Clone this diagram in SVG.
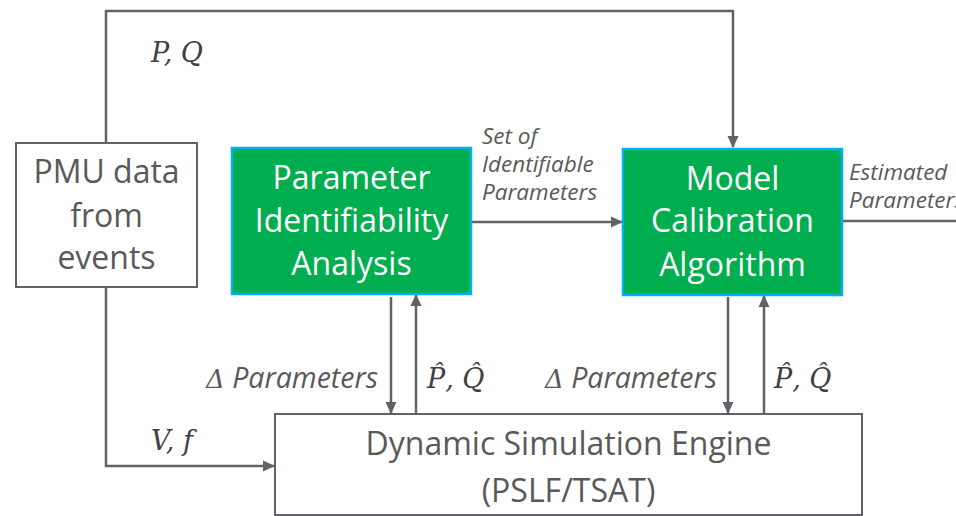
<svg xmlns="http://www.w3.org/2000/svg" width="956" height="516" viewBox="0 0 956 516">
<style>
.box{fill:#ffffff;stroke:#5f6368;stroke-width:2}
.gbox{fill:#00ad4f;stroke:#00b0f0;stroke-width:2.5}
.btxt{font-family:"Open Sans","Noto Sans",sans-serif;font-size:32px;fill:#595959;text-anchor:middle}
.gtxt{font-family:"Open Sans","Noto Sans",sans-serif;font-size:32px;fill:#ffffff;text-anchor:middle}
.lbl{font-family:"Open Sans","Noto Sans",sans-serif;font-size:22.5px;font-style:italic;fill:#595959}
.dl{font-family:"Open Sans","Noto Sans",sans-serif;font-size:28.5px;font-style:italic;fill:#595959;text-anchor:end}
.math{font-family:"DejaVu Serif","Liberation Serif",serif;font-size:27px;font-style:italic;fill:#404040}
.conn{fill:none;stroke:#5f6368;stroke-width:2.5}
</style>
<defs>
<marker id="arr" markerUnits="userSpaceOnUse" markerWidth="12" markerHeight="12" viewBox="0 0 12 12" refX="11" refY="6" orient="auto">
<path d="M0,0.5 L12,6 L0,11.5 z" fill="#5f6368"/>
</marker>
</defs>
<g id="connectors">
<path class="conn" d="M106,143 V11 H733 V147" marker-end="url(#arr)"/>
<path class="conn" d="M106,287 V466 H274" marker-end="url(#arr)"/>
<path class="conn" d="M471,222 H622" marker-end="url(#arr)"/>
<path class="conn" d="M842,221 H956"/>
<path class="conn" d="M391,297 V413" marker-end="url(#arr)"/>
<path class="conn" d="M416,414 V295" marker-end="url(#arr)"/>
<path class="conn" d="M728,297 V413" marker-end="url(#arr)"/>
<path class="conn" d="M764,414 V296" marker-end="url(#arr)"/>
<g id="conn-labels">
<text class="math" x="151" y="62">P, Q</text>
<text class="math" x="151" y="450">V, f</text>
<text class="lbl" x="482" y="144">Set of</text>
<text class="lbl" x="482" y="172">Identifiable</text>
<text class="lbl" x="482" y="200">Parameters</text>
<text class="lbl" x="849" y="180">Estimated</text>
<text class="lbl" x="849" y="208">Parameters</text>
<text class="dl" x="378" y="388"><tspan font-family="DejaVu Serif, Liberation Serif, serif" font-size="26px">Δ</tspan> Parameters</text>
<text class="dl" x="717" y="388"><tspan font-family="DejaVu Serif, Liberation Serif, serif" font-size="26px">Δ</tspan> Parameters</text>
<text class="math" x="427" y="388">P̂, Q̂</text>
<text class="math" x="774" y="388">P̂, Q̂</text>
</g>
</g>
<g id="pmu">
<rect class="box" x="16" y="143" width="181" height="144"/>
<text class="btxt" x="106.5" y="183">PMU data</text>
<text class="btxt" x="106.5" y="227">from</text>
<text class="btxt" x="106.5" y="269">events</text>
</g>
<g id="pia">
<rect class="gbox" x="232" y="148" width="239" height="146"/>
<text class="gtxt" x="351.5" y="189">Parameter</text>
<text class="gtxt" x="351.5" y="232">Identifiability</text>
<text class="gtxt" x="351.5" y="275">Analysis</text>
</g>
<g id="mca">
<rect class="gbox" x="623" y="149" width="219" height="146"/>
<text class="gtxt" x="732.5" y="190">Model</text>
<text class="gtxt" x="732.5" y="232">Calibration</text>
<text class="gtxt" x="732.5" y="276">Algorithm</text>
</g>
<g id="dse">
<rect class="box" x="275" y="414" width="587" height="101" stroke-width="1.5"/>
<text class="btxt" x="568.5" y="455" font-size="31.5px">Dynamic Simulation Engine</text>
<text class="btxt" x="568.5" y="502" font-size="31.5px">(PSLF/TSAT)</text>
</g>
</svg>
